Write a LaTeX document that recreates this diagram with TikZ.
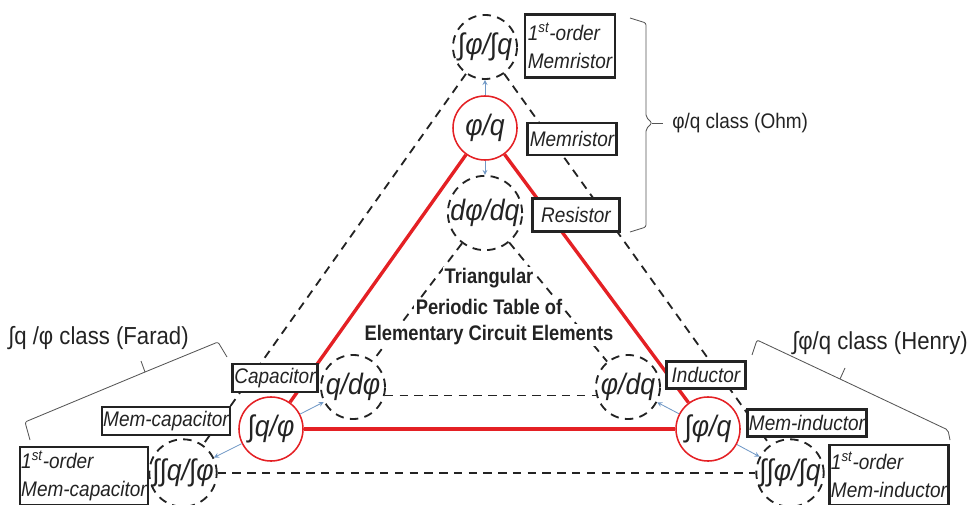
\documentclass[tikz,border=0pt]{standalone}
\usepackage{fontspec}
\setmainfont{Liberation Sans}[FakeStretch=0.9]
\newfontfamily\titlefont{Liberation Sans}[FakeStretch=0.87]
\definecolor{tablered}{RGB}{228,32,36}
\definecolor{tableblue}{RGB}{112,152,198}
\definecolor{tablegray}{RGB}{85,85,85}
\definecolor{tableink}{RGB}{35,35,35}

\begin{document}
\begin{tikzpicture}[x=0.025cm,y=-0.025cm]

%
% Styles
%
\tikzstyle{element} = [circle,draw=tablered,fill=white,line width=1.1pt,minimum size=1.6cm,inner sep=0pt,
                       text=tableink,font=\fontsize{21}{21}\selectfont\itshape]
\tikzstyle{higher}  = [circle,draw=tableink,fill=white,line width=1.3pt,dash pattern=on 6pt off 4.5pt,
                       minimum size=1.6cm,inner sep=0pt,text=tableink,font=\fontsize{21}{21}\selectfont\itshape]
\tikzstyle{namebox} = [draw=tableink,fill=white,line width=1.6pt,inner sep=1pt,align=left,
                       text=tableink,font=\fontsize{15}{20}\selectfont\itshape]
\tikzstyle{link}    = [draw=tablered,line width=2.4pt]
\tikzstyle{track}   = [draw=tableink,line width=1.3pt,dash pattern=on 6pt off 4.5pt]
\tikzstyle{hop}     = [->,>=stealth,draw=tableblue,semithick]
\tikzstyle{bracket} = [draw=tablegray,semithick,rounded corners=1.5pt]
\tikzstyle{class}   = [anchor=west,inner sep=0pt,text=tableink,font=\fontsize{15}{15}\selectfont]
\tikzstyle{heading} = [fill=white,inner sep=1pt,text=tableink,font=\titlefont\bfseries\fontsize{15}{15}\selectfont]

\useasboundingbox (0,0) rectangle (971,505);

\node[element] (ohm)   at (485,128) {φ/q};
\node[element] (far)   at (271,429) {∫q/φ};
\node[element] (hen)   at (708,429) {∫φ/q};

\node[higher]  (mem1)  at (485, 47) {∫φ/∫q};
\node[higher]  (res)   at (485,213) {dφ/dq};
\node[higher]  (cap)   at (353,387) {q/dφ};
\node[higher]  (ind)   at (628,387) {φ/dq};
\node[higher]  (memc1) at (183,473) {∫∫q/∫φ};
\node[higher]  (meml1) at (790,473) {∫∫φ/∫q};

\draw[track] (mem1) -- (memc1);
\draw[track] (mem1) -- (meml1);
\draw[track] (memc1) -- (meml1);
\draw[track] (res) -- (cap);
\draw[track] (res) -- (ind);
\draw[track] (cap.-15) -- (ind.195);

\draw[link] (ohm) -- (far);
\draw[link] (far) -- (hen);
\draw[link] (hen) -- (ohm);

\draw[hop] (ohm) -- (mem1);
\draw[hop] (ohm) -- (res);
\draw[hop] (far) -- (cap);
\draw[hop] (far) -- (memc1);
\draw[hop] (hen) -- (ind);
\draw[hop] (hen) -- (meml1);

\node[namebox,minimum width=2.25cm,minimum height=1.575cm]  (bmem1)  at (570, 46) {1\textsuperscript{st}-order\\Memristor};
\node[namebox,minimum width=2.225cm,minimum height=0.8cm]   (bmem)   at (572,139) {Memristor};
\node[namebox,minimum width=2.175cm,minimum height=0.825cm] (bres)   at (576,215) {Resistor};
\node[namebox,minimum width=2.125cm,minimum height=0.7cm]   (bcap)   at (275,378) {Capacitor};
\node[namebox,minimum width=3.2cm,minimum height=0.7cm]     (bmemc)  at (166,421) {Mem-capacitor};
\node[namebox,minimum width=3.075cm,minimum height=1.45cm]  (bmemc1) at (84,476)  {1\textsuperscript{st}-order\\Mem-capacitor};
\node[namebox,minimum width=1.975cm,minimum height=0.675cm] (bind)   at (706,375) {Inductor};
\node[namebox,minimum width=2.925cm,minimum height=0.675cm] (bmeml)  at (807,423) {Mem-inductor};
\node[namebox,minimum width=2.9cm,minimum height=1.5cm]     (bmeml1) at (889,475) {1\textsuperscript{st}-order\\Mem-inductor};

\node[heading] (t1) at (489,278) {Triangular};
\node[heading] (t2) at (489,307) {Periodic Table of};
\node[heading] (t3) at (489,335) {Elementary Circuit Elements};

% class brackets
\draw[bracket] (630,18) -- (646,23) -- (646,117) -- (652,123) -- (646,129) -- (646,227) -- (630,232);
\draw[bracket] (652,123) -- (663,123);
\draw[bracket] (30,440) -- (25,422) -- (145,372) -- (218,342) -- (227,357);
\draw[bracket] (145,372) -- (141,361);
\draw[bracket] (752,355) -- (757,340) -- (840,379) -- (948,430) -- (950,440);
\draw[bracket] (840,379) -- (845,368);

\node[class] (lohm) at (672,123) {φ/q class (Ohm)};
\node[class,font=\fontsize{17.5}{17.5}\selectfont] (lfar) at (8,338)   {∫q /φ class (Farad)};
\node[class,font=\fontsize{17.5}{17.5}\selectfont] (lhen) at (792,343) {∫φ/q class (Henry)};

\end{tikzpicture}
\end{document}
